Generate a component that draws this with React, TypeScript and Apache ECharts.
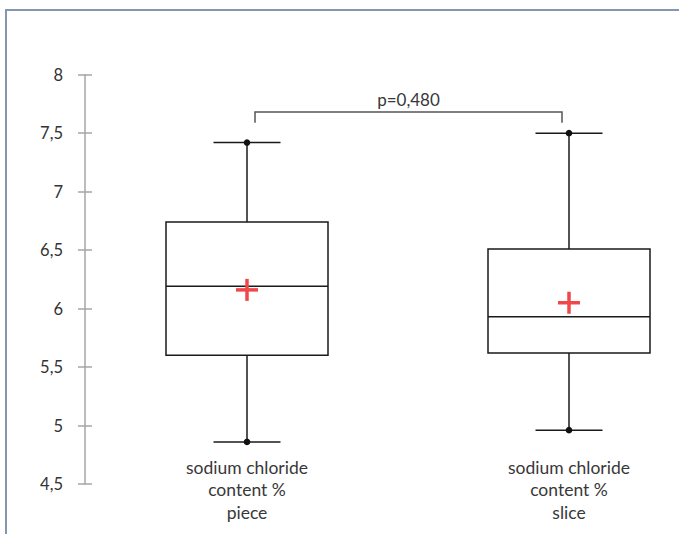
import React, { useEffect, useRef } from "react";
import * as echarts from "echarts";

const categories = [
  "sodium chloride\ncontent %\npiece",
  "sodium chloride\ncontent %\nslice",
];
const minValues = [4.86, 4.96];
const q1Values = [5.6, 5.62];
const medianValues = [6.19, 5.93];
const q3Values = [6.74, 6.51];
const maxValues = [7.42, 7.5];
const meanValues = [6.16, 6.05];
const pValueLabel = "p=0,480";
const bracketLevel = 7.68;
const bracketLegEnd = 7.59;
const yTicks = { min: 4.5, max: 8, interval: 0.5 };

const FONT = "Lato, 'Noto Sans', sans-serif";

export default function App() {
  const ref = useRef<HTMLDivElement>(null);
  useEffect(() => {
    if (!ref.current) return;
    const chart = echarts.init(ref.current, null, { renderer: "svg" });
    const boxData = categories.map((_, i) => [
      i,
      minValues[i],
      q1Values[i],
      medianValues[i],
      q3Values[i],
      maxValues[i],
      meanValues[i],
    ]);
    const boxHalf = 81;
    const capHalf = 33.5;
    const lineStyle = { stroke: "#1a1a1a", lineWidth: 1.5, fill: "none" };
    chart.setOption({
      animation: false,
      textStyle: { fontFamily: FONT },
      graphic: [
        {
          type: "rect",
          shape: { x: 6, y: 10, width: 900, height: 800 },
          style: { fill: "none", stroke: "#8497b0", lineWidth: 2 },
          silent: true,
        },
      ],
      grid: { left: 247, right: 110, top: 74.7, bottom: 50 },
      xAxis: {
        type: "category",
        data: categories,
        boundaryGap: false,
        offset: -28,
        axisLine: { show: false },
        axisTick: { show: false },
        splitLine: { show: false },
        axisLabel: {
          margin: 0,
          color: "#383838",
          fontSize: 17.5,
          lineHeight: 22.5,
          fontFamily: FONT,
          verticalAlign: "top",
        },
      },
      yAxis: [
        {
          type: "value",
          min: yTicks.min,
          max: yTicks.max,
          interval: yTicks.interval,
          offset: 162,
          axisLine: { show: true, lineStyle: { color: "#a6a6a6", width: 1.5 } },
          axisTick: { show: true, length: 7, lineStyle: { color: "#a6a6a6", width: 1.5 } },
          splitLine: { show: false },
          axisLabel: {
            margin: 22,
            color: "#333",
            fontSize: 16.5,
            fontFamily: FONT,
            formatter: (v: number) => String(v).replace(".", ","),
          },
        },
        {
          type: "value",
          min: yTicks.min,
          max: yTicks.max,
          interval: yTicks.interval,
          offset: 162,
          position: "left",
          axisLine: { show: false },
          axisTick: { show: true, inside: true, length: 7, lineStyle: { color: "#a6a6a6", width: 1.5 } },
          splitLine: { show: false },
          axisLabel: { show: false },
        },
      ],
      series: [
        {
          type: "custom",
          data: boxData,
          encode: { x: 0, y: [1, 2, 3, 4, 5, 6] },
          renderItem: (_params: any, api: any) => {
            const i = api.value(0);
            const pMin = api.coord([i, api.value(1)]);
            const pQ1 = api.coord([i, api.value(2)]);
            const pMed = api.coord([i, api.value(3)]);
            const pQ3 = api.coord([i, api.value(4)]);
            const pMax = api.coord([i, api.value(5)]);
            const pMean = api.coord([i, api.value(6)]);
            const cx = pMin[0];
            const mk = 11;
            return {
              type: "group",
              children: [
                { type: "line", shape: { x1: cx, y1: pMax[1], x2: cx, y2: pQ3[1] }, style: lineStyle },
                { type: "line", shape: { x1: cx, y1: pQ1[1], x2: cx, y2: pMin[1] }, style: lineStyle },
                { type: "line", shape: { x1: cx - capHalf, y1: pMax[1], x2: cx + capHalf, y2: pMax[1] }, style: lineStyle },
                { type: "line", shape: { x1: cx - capHalf, y1: pMin[1], x2: cx + capHalf, y2: pMin[1] }, style: lineStyle },
                {
                  type: "rect",
                  shape: { x: cx - boxHalf, y: pQ3[1], width: boxHalf * 2, height: pQ1[1] - pQ3[1] },
                  style: { ...lineStyle, fill: "#ffffff" },
                },
                { type: "line", shape: { x1: cx - boxHalf, y1: pMed[1], x2: cx + boxHalf, y2: pMed[1] }, style: lineStyle },
                { type: "circle", shape: { cx, cy: pMax[1], r: 3.3 }, style: { fill: "#111" } },
                { type: "circle", shape: { cx, cy: pMin[1], r: 3.3 }, style: { fill: "#111" } },
                { type: "line", shape: { x1: cx - mk, y1: pMean[1], x2: cx + mk, y2: pMean[1] }, style: { stroke: "#f04848", lineWidth: 3.5 } },
                { type: "line", shape: { x1: cx, y1: pMean[1] - mk, x2: cx, y2: pMean[1] + mk }, style: { stroke: "#f04848", lineWidth: 3.5 } },
              ],
            };
          },
          z: 3,
        },
        {
          type: "custom",
          data: [[0, 1, bracketLevel, bracketLegEnd]],
          renderItem: (_params: any, api: any) => {
            const a = api.coord([api.value(0), api.value(2)]);
            const b = api.coord([api.value(1), api.value(2)]);
            const legY = api.coord([api.value(0), api.value(3)])[1];
            const x1 = a[0] + 8;
            const x2 = b[0] - 7;
            const st = { stroke: "#555555", lineWidth: 1.5, fill: "none" };
            return {
              type: "group",
              children: [
                { type: "polyline", shape: { points: [[x1, legY], [x1, a[1]], [x2, a[1]], [x2, legY]] }, style: st },
                {
                  type: "text",
                  x: (x1 + x2) / 2,
                  y: a[1] - 4,
                  style: {
                    text: pValueLabel,
                    fill: "#383838",
                    font: `17px ${FONT}`,
                    align: "center",
                    verticalAlign: "bottom",
                  },
                },
              ],
            };
          },
          z: 2,
        },
      ],
    });
    return () => chart.dispose();
  }, []);
  return (
    <div
      ref={ref}
      style={{ position: "fixed", left: 0, top: 0, width: 679, height: 534, background: "#fff" }}
    />
  );
}
